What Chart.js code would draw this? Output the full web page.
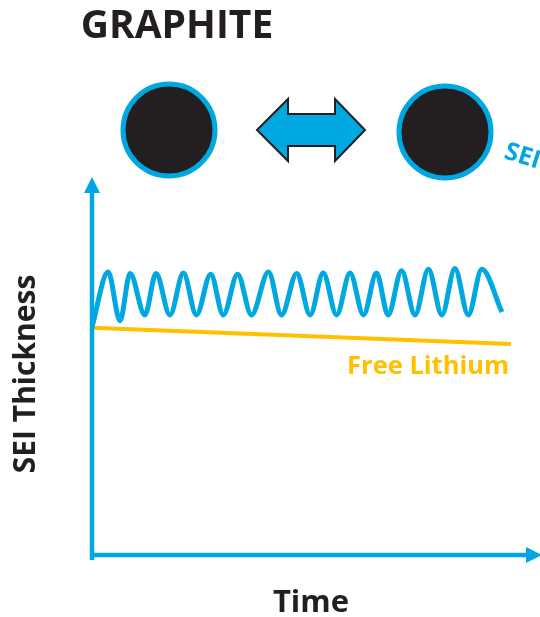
<!DOCTYPE html>
<html>
<head>
<meta charset="utf-8">
<script src="https://cdn.jsdelivr.net/npm/chart.js@4/dist/chart.umd.min.js"></script>
<style>
  html, body { margin: 0; padding: 0; background: #fff; }
  #wrap { width: 540px; height: 617px; }
</style>
</head>
<body>
<div id="wrap"><canvas id="myChart"></canvas></div>
<script>
// Data (time 0-100, thickness 0-100)
var seiTime = [0, 3.6, 6.25, 8.5, 11.8, 14.3, 17.4, 20.4, 23.3, 26.5, 29.3, 32.5, 35.6, 39.4, 42.3, 45.7, 48.7, 51.6, 54.6, 57.6, 60.6, 63.5, 66.1, 69.1, 72.1, 75.1, 78.1, 81, 84, 87, 91.5]
var seiThickness = [60.3, 74.9, 62, 74.5, 63.5, 74.5, 63.5, 74.6, 63.5, 74.3, 63.5, 74.3, 63.5, 74.9, 63.5, 74.5, 63.5, 74.6, 63.5, 74.6, 63.5, 74.6, 63.5, 75.2, 63.5, 75.6, 63.5, 75.8, 63.5, 75.6, 64.3]
var lithiumTime = [0, 93.5]
var lithiumLevel = [60.1, 55.8]

var blue = '#00a8e1'
var orange = '#ffc000'

function toPoints(xs, ys){
    return xs.map(function(x, i){ return {x: x, y: ys[i]} })
}

// Drawing of axes, particles and labels
var decor = {
    id: 'decor',
    afterDraw: function(chart){
        var c = chart.ctx
        var xs = chart.scales.x
        var ys = chart.scales.y
        var x0 = xs.getPixelForValue(0)
        var y0 = ys.getPixelForValue(0)
        var yTop = ys.getPixelForValue(100)
        var xEnd = xs.getPixelForValue(100)
        c.save()

        // axes
        c.strokeStyle = blue
        c.fillStyle = blue
        c.lineWidth = 4.5
        c.beginPath()
        c.moveTo(x0, y0 + 5)
        c.lineTo(x0, yTop + 12)
        c.moveTo(x0 - 2, y0)
        c.lineTo(xEnd - 12, y0)
        c.stroke()
        c.beginPath()
        c.moveTo(x0, yTop)
        c.lineTo(x0 - 8, yTop + 16)
        c.lineTo(x0 + 8, yTop + 16)
        c.closePath()
        c.fill()
        c.beginPath()
        c.moveTo(xEnd + 2, y0)
        c.lineTo(xEnd - 14, y0 - 8)
        c.lineTo(xEnd - 14, y0 + 8)
        c.closePath()
        c.fill()

        // particles
        ;[[169, 130], [445, 132]].forEach(function(p){
            c.beginPath()
            c.arc(p[0], p[1], 46, 0, Math.PI * 2)
            c.fillStyle = '#231f20'
            c.fill()
            c.lineWidth = 5
            c.strokeStyle = blue
            c.stroke()
        })

        // double arrow
        c.beginPath()
        c.moveTo(257, 130)
        c.lineTo(288, 99)
        c.lineTo(288, 114)
        c.lineTo(335, 114)
        c.lineTo(335, 99)
        c.lineTo(365, 130)
        c.lineTo(335, 161)
        c.lineTo(335, 146)
        c.lineTo(288, 146)
        c.lineTo(288, 161)
        c.closePath()
        c.fillStyle = blue
        c.fill()
        c.lineWidth = 2
        c.strokeStyle = '#231f20'
        c.stroke()

        // texts
        c.fillStyle = '#231f20'
        c.textBaseline = 'alphabetic'
        c.textAlign = 'center'
        c.font = 'bold 39px "Open Sans"'
        c.fillText('GRAPHITE', 177, 38)
        c.font = 'bold 31px "Open Sans"'
        c.fillText('Time', 311, 612)
        c.save()
        c.translate(35, 374)
        c.rotate(-Math.PI / 2)
        c.font = 'bold 30px "Open Sans"'
        c.fillText('SEI Thickness', 0, 0)
        c.restore()

        c.fillStyle = orange
        c.textAlign = 'right'
        c.font = 'bold 25.5px "Open Sans"'
        c.fillText('Free Lithium', 509, 374)

        c.save()
        c.translate(503, 158)
        c.rotate(0.3)
        c.fillStyle = blue
        c.textAlign = 'left'
        c.font = 'bold 25px "Open Sans"'
        c.fillText('SEI', 0, 0)
        c.restore()

        c.restore()
    }
}

var ctx = document.getElementById('myChart')

new Chart(ctx, {
    type: 'line',
    data: {
        datasets: [{
            label: 'SEI',
            data: toPoints(seiTime, seiThickness),
            borderColor: blue,
            borderWidth: 5,
            cubicInterpolationMode: 'monotone',
            pointRadius: 0,
            fill: false
        },
        {
            label: 'Free Lithium',
            data: toPoints(lithiumTime, lithiumLevel),
            borderColor: orange,
            borderWidth: 4,
            pointRadius: 0,
            fill: false
        }]
    },
    options: {
        responsive: true,
        maintainAspectRatio: false,
        animation: false,
        layout: {
            padding: {left: 92, right: 0, top: 177, bottom: 62}
        },
        plugins: {
            legend: {display: false},
            tooltip: {enabled: false}
        },
        scales: {
            x: {type: 'linear', min: 0, max: 100, display: false},
            y: {type: 'linear', min: 0, max: 100, display: false}
        }
    },
    plugins: [decor]
})
</script>
</body>
</html>
